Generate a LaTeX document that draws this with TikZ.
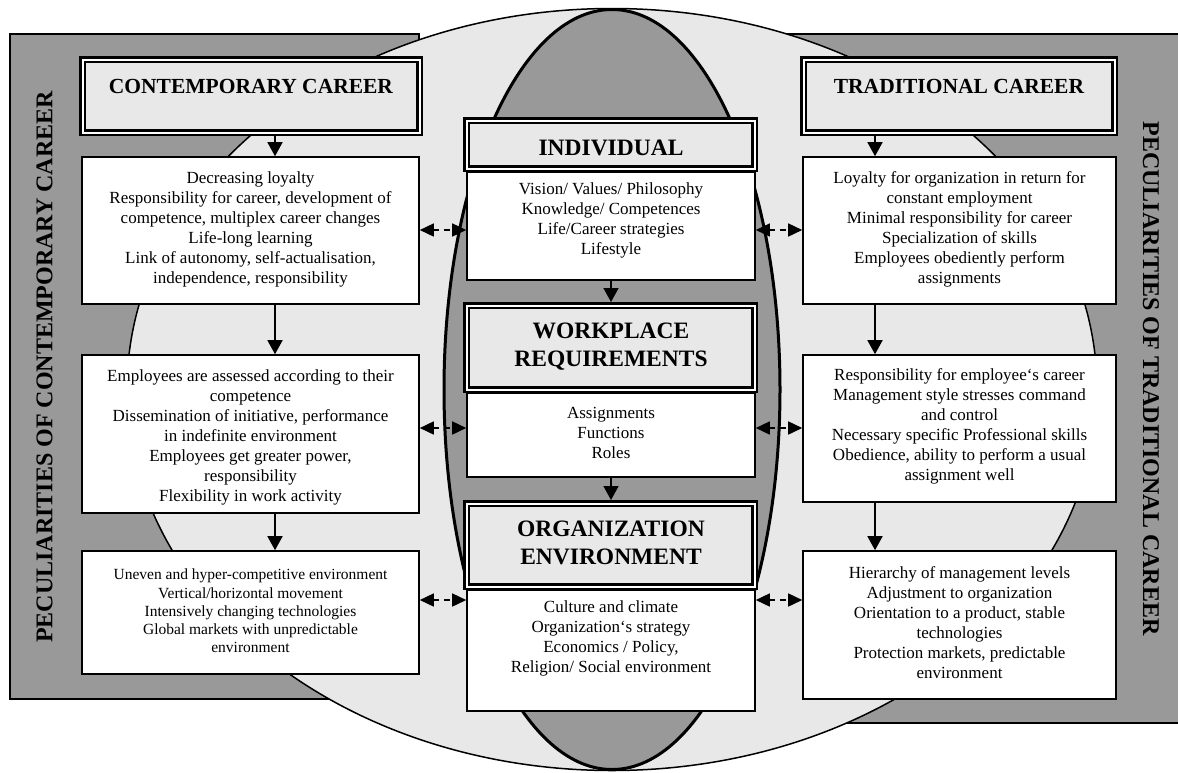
\documentclass[tikz,border=0pt]{standalone}
\usepackage{fontspec}
\setmainfont{Liberation Serif}
\usetikzlibrary{arrows.meta}
\definecolor{darkfill}{gray}{0.6}
\definecolor{lightfill}{gray}{0.91}
\begin{document}
\begin{tikzpicture}[x=1pt,y=-1pt,
  panel/.style={draw,line width=1.5pt,fill=darkfill},
  bodybox/.style={draw,line width=1.6pt,fill=white,inner sep=0pt,outer sep=0.8pt},
  hdrbox/.style={draw,line width=2.5pt,double=white,double distance=2pt,fill=lightfill,inner sep=0pt,outer sep=3.5pt},
  hdrtxt/.style={font=\fontsize{21.5}{26}\selectfont\bfseries,align=center,inner sep=0pt},
  ctrtxt/.style={font=\fontsize{23.5}{27.5}\selectfont\bfseries,align=center,inner sep=0pt},
  bodytxt/.style={font=\fontsize{17}{20}\selectfont,align=center,inner sep=0pt},
  smalltxt/.style={font=\fontsize{15.5}{18.3}\selectfont,align=center,inner sep=0pt},
  sidetxt/.style={font=\fontsize{24}{28}\selectfont\bfseries,inner sep=0pt},
  flow/.style={line width=1.6pt,-{Triangle[length=14pt,width=15pt]}},
  link/.style={line width=1.6pt,dash pattern=on 6pt off 5pt,{Triangle[length=14pt,width=13pt]}-{Triangle[length=14pt,width=13pt]}},
]
\useasboundingbox (0,0) rectangle (1178,772);
\clip (0,0) rectangle (1178,772);
% background panels
\draw[panel] (10,34) rectangle (419,699);
\draw[panel] (787,34) rectangle (1190,723);
% ellipses
\draw[line width=1.5pt,fill=lightfill] (612,389.5) ellipse [x radius=485pt, y radius=381pt];
\draw[line width=3pt,fill=darkfill] (612,389.5) ellipse [x radius=168pt, y radius=380pt];
% side labels
\node[sidetxt,rotate=90] (sL) at (44.5,367) {PECULIARITIES OF CONTEMPORARY CAREER};
\node[sidetxt,rotate=-90] (sR) at (1151,378.5) {PECULIARITIES OF TRADITIONAL CAREER};
% left column
\node[hdrbox,minimum width=337pt,minimum height=73pt] (CC) at (251,96) {};
\node[bodybox,minimum width=337pt,minimum height=147pt] (L1) at (250.5,230.5) {};
\node[bodybox,minimum width=337pt,minimum height=158pt] (L2) at (250.5,434) {};
\node[bodybox,minimum width=337pt,minimum height=123pt] (L3) at (250.5,612.5) {};
% right column
\node[hdrbox,minimum width=311pt,minimum height=73pt] (TC) at (959,96) {};
\node[bodybox,minimum width=313pt,minimum height=147pt] (R1) at (959.5,230.5) {};
\node[bodybox,minimum width=313pt,minimum height=147pt] (R2) at (959.5,428.5) {};
\node[bodybox,minimum width=313pt,minimum height=148pt] (R3) at (959.5,625) {};
% centre column
\node[bodybox,minimum width=288pt,minimum height=108pt] (Ib) at (611,226) {};
\node[hdrbox,minimum width=288pt,minimum height=48pt] (Ih) at (610.5,144.5) {};
\node[bodybox,minimum width=288pt,minimum height=84pt] (Wb) at (611,435) {};
\node[hdrbox,minimum width=288pt,minimum height=84pt] (Wh) at (610.5,347.5) {};
\node[bodybox,minimum width=288pt,minimum height=121pt] (Ob) at (611,650.5) {};
\node[hdrbox,minimum width=288pt,minimum height=83pt] (Oh) at (610.5,545) {};
% header texts
\node[hdrtxt] (tCC) at (251,86) {CONTEMPORARY CAREER};
\node[hdrtxt] (tTC) at (959,86) {TRADITIONAL CAREER};
\node[ctrtxt] (tI) at (611,148) {INDIVIDUAL};
\node[ctrtxt] (tW) at (611,346.5) {WORKPLACE\\REQUIREMENTS};
\node[ctrtxt] (tO) at (611,543) {ORGANIZATION\\ENVIRONMENT};
% body texts
\node[bodytxt] (tL1) at (250.5,229) {Decreasing loyalty\\Responsibility for career, development of\\competence, multiplex career changes\\Life-long learning\\Link of autonomy, self-actualisation,\\independence, responsibility};
\node[bodytxt] (tL2) at (250.5,437) {Employees are assessed according to their\\competence\\Dissemination of initiative, performance\\in indefinite environment\\Employees get greater power,\\responsibility\\Flexibility in work activity};
\node[smalltxt] (tL3) at (250.5,611) {Uneven and hyper-competitive environment\\Vertical/horizontal movement\\Intensively changing technologies\\Global markets with unpredictable\\environment};
\node[bodytxt] (tR1) at (959.5,229) {Loyalty for organization in return for\\constant employment\\Minimal responsibility for career\\Specialization of skills\\Employees obediently perform\\assignments};
\node[bodytxt] (tR2) at (959.5,426) {Responsibility for employee‘s career\\Management style stresses command\\and control\\Necessary specific Professional skills\\Obedience, ability to perform a usual\\assignment well};
\node[bodytxt] (tR3) at (959.5,623) {Hierarchy of management levels\\Adjustment to organization\\Orientation to a product, stable\\technologies\\Protection markets, predictable\\environment};
\node[bodytxt] (tIb) at (611,220) {Vision/ Values/ Philosophy\\Knowledge/ Competences\\Life/Career strategies\\Lifestyle};
\node[bodytxt] (tWb) at (611,433) {Assignments\\Functions\\Roles};
\node[bodytxt] (tOb) at (611,638) {Culture and climate\\Organization‘s strategy\\Economics / Policy,\\Religion/ Social environment};
% flow arrows
\coordinate (axL) at (275,0);
\coordinate (axR) at (875,0);
\draw[flow] (CC.south -| axL) -- (L1.north -| axL);
\draw[flow] (L1.south -| axL) -- (L2.north -| axL);
\draw[flow] (L2.south -| axL) -- (L3.north -| axL);
\draw[flow] (TC.south -| axR) -- (R1.north -| axR);
\draw[flow] (R1.south -| axR) -- (R2.north -| axR);
\draw[flow] (R2.south -| axR) -- (R3.north -| axR);
\draw[flow] (Ib.south) -- (Wh.north -| Ib.south);
\draw[flow] (Wb.south) -- (Oh.north -| Wb.south);
% two-way links
\coordinate (y1) at (0,230);
\coordinate (y2) at (0,428);
\coordinate (y3) at (0,600);
\draw[link] (L1.east |- y1) -- (Ib.west |- y1);
\draw[link] (Ib.east |- y1) -- (R1.west |- y1);
\draw[link] (L2.east |- y2) -- (Wb.west |- y2);
\draw[link] (Wb.east |- y2) -- (R2.west |- y2);
\draw[link] (L3.east |- y3) -- (Ob.west |- y3);
\draw[link] (Ob.east |- y3) -- (R3.west |- y3);
\end{tikzpicture}
\end{document}
